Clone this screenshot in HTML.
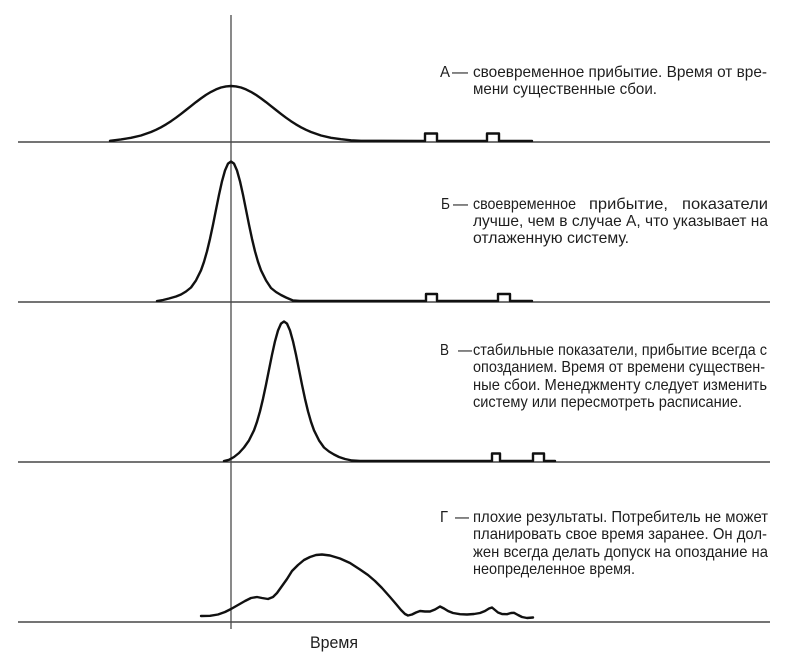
<!DOCTYPE html>
<html>
<head>
<meta charset="utf-8">
<style>
html,body{margin:0;padding:0;background:#fff;}
svg{display:block;}
text{font-family:"Liberation Sans","DejaVu Sans",sans-serif;font-size:16px;fill:#1e1e1e;}
</style>
</head>
<body>
<svg width="790" height="656" viewBox="0 0 790 656" xmlns="http://www.w3.org/2000/svg">
<rect width="790" height="656" fill="#fff"/>
<!-- baselines -->
<g stroke="#222" stroke-width="1.3" fill="none">
<line x1="18" y1="142" x2="770" y2="142"/>
<line x1="18" y1="302" x2="770" y2="302"/>
<line x1="18" y1="462" x2="770" y2="462"/>
<line x1="18" y1="622" x2="770" y2="622"/>
</g>
<!-- vertical axis -->
<line x1="231" y1="15" x2="231" y2="629" stroke="#4a4a4a" stroke-width="1.3"/>

<g stroke="#111" stroke-width="2.4" fill="none" stroke-linejoin="round" stroke-linecap="round">
<!-- A -->
<polyline points="110,140.8 121,139.4 131,137.8 141,135.5 151,132 156,129.8 161,127.3 166,124.4 171,121.2 176,117.7 181,113.9 186,110 191,106.1 196,102.1 201,98.4 206,94.9 211,91.9 216,89.4 221,87.5 226,86.4 231,86 236,86.4 241,87.5 246,89.4 251,91.9 256,94.9 261,98.4 266,102.1 271,106.1 276,110 281,113.9 286,117.7 291,121.2 296,124.4 301,127.3 306,129.8 311,132 321,135.5 331,137.8 341,139.2 351,140.3 361,140.8 425,141 425,133.5 437,133.5 437,141 487,141 487,133.5 499,133.5 499,141 532,141"/>
<!-- B -->
<polyline points="157,301 163,300 169,298.5 176,296.5 181,294.5 186,291.5 191,287.5 196,280.4 201,270.3 204,261.8 207,251.3 210,238.8 213,224.7 216,209.7 219,194.8 222,181.3 225,170.5 228,163.6 231,161.5 234,163.6 237,170.5 240,181.3 243,194.8 246,209.7 249,224.7 252,238.8 255,251.3 258,261.8 261,270.3 266,280.4 271,288 276,292 281,295 286,297.5 293,300.5 300,301 426,301 426,294 437,294 437,301 498,301 498,294 510,294 510,301 532,301"/>
<!-- C -->
<polyline points="224,461 229,459.8 234,457 239,453 244,447.5 249,440.4 254,430.3 257,421.8 260,411.3 263,398.8 266,384.7 269,369.7 272,354.8 275,341.3 278,330.5 281,323.6 284,321.5 287,323.6 290,330.5 293,341.3 296,354.8 299,369.7 302,384.7 305,398.8 308,411.3 311,421.8 314,430.3 319,440.4 324,447.5 329,451.5 334,454.5 339,457 345,459 352,460.5 360,461 492,461 492,453.5 500,453.5 500,461 533,461 533,453.5 544,453.5 544,461 555,461"/>
<!-- D -->
<polyline points="201,616 210,615.8 218,614.5 225,612 231,609 238,605 245,601 251,598 257,597 262,598 268,599 273,597 277,593 282,586 287,579 292,571 298,565 304,560 310,557 316,555 322,554.5 330,555.5 340,558.5 350,563 360,569.5 368,575 375,581 382,588 390,597 396,604 401,610 405,614 408,615.5 412,614.5 416,612.5 420,611 425,611.5 430,611.5 435,609.5 440,606.5 444,608.5 448,611 453,613 460,614.2 467,614.5 474,614 480,613 485,611 489,608.5 492,607.5 495,610 498,612.5 502,614 507,614.2 511,613 514,612.8 518,615 522,617 527,618 533,617.5"/>
</g>

<!-- Panel A text -->
<text x="440" y="77" textLength="10" lengthAdjust="spacingAndGlyphs">А</text>
<text x="452" y="77" textLength="16" lengthAdjust="spacingAndGlyphs">—</text>
<text x="473" y="77" textLength="294" lengthAdjust="spacingAndGlyphs">своевременное прибытие. Время от вре-</text>
<text x="473" y="94" textLength="184" lengthAdjust="spacingAndGlyphs">мени существенные сбои.</text>

<!-- Panel B text -->
<text x="441" y="209" textLength="9" lengthAdjust="spacingAndGlyphs">Б</text>
<text x="453" y="209" textLength="15" lengthAdjust="spacingAndGlyphs">—</text>
<text x="473" y="209" textLength="103" lengthAdjust="spacingAndGlyphs">своевременное</text>
<text x="589" y="209" textLength="79" lengthAdjust="spacingAndGlyphs">прибытие,</text>
<text x="682" y="209" textLength="86" lengthAdjust="spacingAndGlyphs">показатели</text>
<text x="473" y="226" textLength="295" lengthAdjust="spacingAndGlyphs">лучше, чем в случае А, что указывает на</text>
<text x="473" y="243" textLength="156" lengthAdjust="spacingAndGlyphs">отлаженную систему.</text>

<!-- Panel C text -->
<text x="440" y="355" textLength="9" lengthAdjust="spacingAndGlyphs">В</text>
<text x="458" y="355" textLength="14" lengthAdjust="spacingAndGlyphs">—</text>
<text x="473" y="355" textLength="294" lengthAdjust="spacingAndGlyphs">стабильные показатели, прибытие всегда с</text>
<text x="473" y="372" textLength="292" lengthAdjust="spacingAndGlyphs">опозданием. Время от времени существен-</text>
<text x="473" y="390" textLength="294" lengthAdjust="spacingAndGlyphs">ные сбои. Менеджменту следует изменить</text>
<text x="473" y="407" textLength="269" lengthAdjust="spacingAndGlyphs">систему или пересмотреть расписание.</text>

<!-- Panel D text -->
<text x="440" y="522" textLength="8" lengthAdjust="spacingAndGlyphs">Г</text>
<text x="455" y="522" textLength="14" lengthAdjust="spacingAndGlyphs">—</text>
<text x="473" y="522" textLength="295" lengthAdjust="spacingAndGlyphs">плохие результаты. Потребитель не может</text>
<text x="473" y="539" textLength="294" lengthAdjust="spacingAndGlyphs">планировать свое время заранее. Он дол-</text>
<text x="473" y="557" textLength="295" lengthAdjust="spacingAndGlyphs">жен всегда делать допуск на опоздание на</text>
<text x="473" y="574" textLength="162" lengthAdjust="spacingAndGlyphs">неопределенное время.</text>

<!-- axis label -->
<text x="310" y="648" textLength="48" lengthAdjust="spacingAndGlyphs" style="font-size:16.5px">Время</text>
</svg>
</body>
</html>
